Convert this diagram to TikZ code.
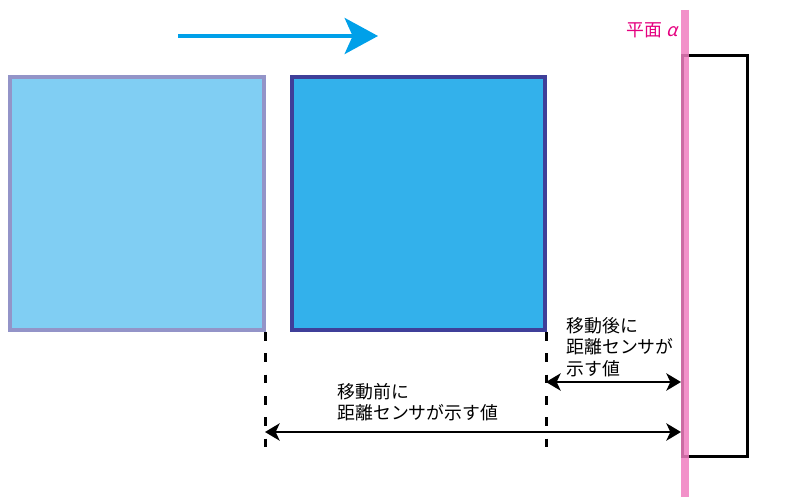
\documentclass[tikz,border=0pt]{standalone}
\usepackage{fontspec}
\setmainfont{Noto Sans CJK JP}
\newfontfamily\slantgreek[FakeSlant=0.25]{Noto Sans CJK JP}
\usetikzlibrary{arrows.meta}
\definecolor{oldFill}{HTML}{80CEF3}
\definecolor{oldEdge}{HTML}{9394C8}
\definecolor{newFill}{HTML}{33B1EB}
\definecolor{newEdge}{HTML}{3F3F99}
\definecolor{moveCyan}{HTML}{00A0E9}
\definecolor{planePink}{HTML}{F07EC0}
\definecolor{labelMagenta}{HTML}{E5007F}
\tikzset{every picture/.style={line width=0.75pt}}
\tikzset{
  guide/.style={line width=2.25, dash pattern={on 6.5pt off 9.5pt}},
  measure/.style={line width=1.5, {Stealth[length=11pt,width=13pt,inset=3pt]}-{Stealth[length=11pt,width=13pt,inset=3pt]}},
  note/.style={anchor=north west, inner sep=0.75pt, align=left, font=\fontsize{13.4}{16}\selectfont}
}

\begin{document}
\begin{tikzpicture}[x=0.75pt,y=0.75pt,yscale=-1,xscale=1]
\useasboundingbox (0,0) rectangle (800,502); %set diagram to 800 x 502

%Shape: Square before move
\draw [color=oldEdge, fill=oldFill, line width=3] (10,77) rectangle (264,330);
%Shape: Square after move
\draw [color=newEdge, fill=newFill, line width=3] (292,77) rectangle (545,330);
%Straight Lines: direction of move
\draw [color=moveCyan, line width=3, -{Stealth[length=25pt,width=27pt,inset=6pt]}] (178,36) -- (378,36);

%Shape: Sensor box
\draw [line width=2.25] (682,56) rectangle (747,456);
%Straight Lines: plane alpha
\draw [color=planePink, opacity=0.85, line width=6.5] (685,10) -- (685,497);

%Straight Lines: guides
\coordinate (beforeTop) at (265,332);
\coordinate (beforeBot) at (265,458);
\coordinate (afterTop) at (546,332);
\coordinate (afterBot) at (546,458);
\draw [guide] (beforeTop) -- (beforeBot);
\draw [guide] (afterTop) -- (afterBot);

%Straight Lines: distances
\coordinate (afterEnd) at (546,382);
\coordinate (afterPlane) at (681,382);
\coordinate (beforeEnd) at (265,432);
\coordinate (beforePlane) at (681,432);
\draw [measure] (afterEnd) -- (afterPlane);
\draw [measure] (beforeEnd) -- (beforePlane);

% Text Node
\draw (679,30) node [anchor=east, inner sep=0.75pt, text=labelMagenta, font=\fontsize{13.4}{16}\selectfont] (planeLabel) {平面\hspace{3pt}{\slantgreek α}};
% Text Node
\draw (565,316) node [note] (afterLabel) {移動後に\\距離センサが\\示す値};
% Text Node
\draw (336,382) node [note] (beforeLabel) {移動前に\\距離センサが示す値};

\end{tikzpicture}
\end{document}
